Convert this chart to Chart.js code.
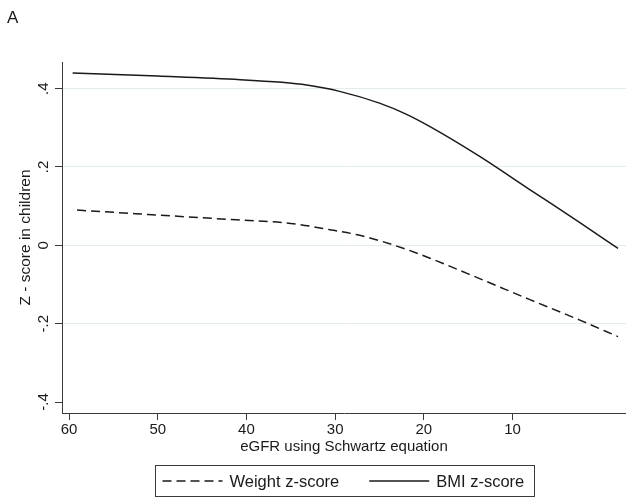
<!DOCTYPE html>
<html lang="en">
<head>
<meta charset="UTF-8">
<title>Z-score vs eGFR</title>
<style>
    body { margin: 0; background: #fff; }
    #wrap { width: 626px; height: 502px; }
</style>
</head>
<body>
<div id="wrap"><canvas id="myChart"></canvas></div>

<script src="https://cdn.jsdelivr.net/npm/chart.js"></script>
<script>
    // values: eGFR on x, z-score on y
    let weightX = [59.1, 49.8, 41.1, 35.0, 30.6, 27.5, 25.0, 22.0, 19.3, 13.7, 8.1, 2.4, -1.9];
    let weightY = [0.090, 0.077, 0.065, 0.056, 0.040, 0.027, 0.012, -0.010, -0.033, -0.085, -0.138, -0.191, -0.233];
    let bmiX = [59.6, 50.0, 40.7, 36.0, 33.2, 29.5, 25.0, 22.0, 19.3, 13.7, 8.1, 2.4, -1.9];
    let bmiY = [0.440, 0.432, 0.423, 0.416, 0.409, 0.393, 0.363, 0.335, 0.303, 0.227, 0.143, 0.058, -0.008];

    let seriesLabels = ['Weight z-score', 'BMI z-score'];
    let xTicks = [60, 50, 40, 30, 20, 10];
    let yTicks = [-0.4, -0.2, 0, 0.2, 0.4];
    let panelLabel = 'A';

    const FONT = '"Liberation Sans", Arial, Helvetica, sans-serif';
    const INK = '#1a1a1a';
    const AXIS = '#3a3a3a';
    const GRID = '#e2ecef';

    Chart.defaults.font.family = FONT;
    Chart.defaults.color = INK;

    function toPoints(xs, ys) {
        let pts = [];
        for (let i = 0; i < xs.length; i++) pts.push({ x: xs[i], y: ys[i] });
        return pts;
    }

    // stata-style number: .4, -.2, 0
    function stataNum(v) {
        if (Math.abs(v) < 1e-9) return '0';
        return v.toFixed(1).replace('0.', '.');
    }

    // legend in a framed box under the plot
    const boxLegend = {
        id: 'boxLegend',
        afterDraw(chart) {
            const ctx = chart.ctx;
            const area = chart.chartArea;
            const sets = chart.data.datasets;
            ctx.save();
            ctx.font = '16.5px ' + FONT;
            let sample = 60, gap = 7, sep = 30, padL = 7, padR = 10;
            let widths = sets.map(d => ctx.measureText(d.label).width);
            let total = padL + padR + sets.length * (sample + gap) + widths.reduce((a, b) => a + b, 0) + sep * (sets.length - 1);
            let left = Math.round((area.left + area.right) / 2 - total / 2) + 0.5;
            let top = chart.height - 37 + 0.5;
            let h = 31;
            let cy = top + h / 2;

            ctx.strokeStyle = AXIS;
            ctx.lineWidth = 1;
            ctx.strokeRect(left, top, Math.round(total), h);

            let x = left + padL;
            sets.forEach((d, i) => {
                ctx.beginPath();
                ctx.setLineDash(d.borderDash || []);
                ctx.strokeStyle = d.borderColor;
                ctx.lineWidth = d.borderWidth;
                ctx.moveTo(x, cy);
                ctx.lineTo(x + sample, cy);
                ctx.stroke();
                ctx.setLineDash([]);
                x += sample + gap;
                ctx.fillStyle = INK;
                ctx.textBaseline = 'middle';
                ctx.textAlign = 'left';
                ctx.fillText(d.label, x, cy + 1);
                x += widths[i] + sep;
            });

            // panel letter
            ctx.font = '17px ' + FONT;
            ctx.textBaseline = 'middle';
            ctx.fillText(panelLabel, 7, 18);
            ctx.restore();
        }
    };

    const ctx = document.getElementById('myChart');

    let datasets = [
        {
            label: seriesLabels[0],
            data: toPoints(weightX, weightY),
            borderColor: INK,
            borderWidth: 1.5,
            borderDash: [9, 5],
            pointRadius: 0,
            cubicInterpolationMode: 'monotone',
            fill: false,
        },
        {
            label: seriesLabels[1],
            data: toPoints(bmiX, bmiY),
            borderColor: INK,
            borderWidth: 1.5,
            pointRadius: 0,
            cubicInterpolationMode: 'monotone',
            fill: false,
        },
    ];

    let options = {
        responsive: true,
        maintainAspectRatio: false,
        animation: false,
        layout: {
            padding: { top: 62, right: 0, bottom: 42, left: 0 }
        },
        plugins: {
            legend: { display: false },
            tooltip: { enabled: false },
        },
        scales: {
            x: {
                type: 'linear',
                reverse: true,
                min: -2.8,
                max: 60.8,
                afterBuildTicks: (scale) => { scale.ticks = xTicks.map(v => ({ value: v })); },
                afterFit: (scale) => { scale.height = 47; },
                border: { display: true, color: AXIS, width: 1 },
                grid: { drawOnChartArea: false, drawTicks: true, tickLength: 7, color: AXIS, tickColor: AXIS },
                ticks: { font: { size: 15 }, padding: 1, maxRotation: 0, color: INK },
                title: {
                    display: true,
                    text: 'eGFR using Schwartz equation',
                    font: { size: 15 },
                    padding: { top: 4, bottom: 4 },
                    color: INK,
                },
            },
            y: {
                type: 'linear',
                min: -0.428,
                max: 0.468,
                afterBuildTicks: (scale) => { scale.ticks = yTicks.map(v => ({ value: v })); },
                afterFit: (scale) => { scale.width = 62; },
                border: { display: true, color: AXIS, width: 1 },
                grid: {
                    drawTicks: true,
                    tickLength: 7,
                    color: (c) => (c.tick && c.tick.value <= -0.39 ? 'rgba(0,0,0,0)' : GRID),
                    tickColor: AXIS,
                },
                ticks: {
                    font: { size: 15 },
                    minRotation: 90,
                    maxRotation: 90,
                    crossAlign: 'center',
                    padding: 2,
                    color: INK,
                    callback: (v) => stataNum(v),
                },
                title: {
                    display: true,
                    text: 'Z - score in children',
                    font: { size: 15.5 },
                    padding: { top: 16, bottom: 4 },
                    color: INK,
                },
            },
        },
    };

    let chart = new Chart(ctx, {
        type: 'line',
        data: { datasets: datasets },
        options: options,
        plugins: [boxLegend],
    });
</script>
</body>
</html>
